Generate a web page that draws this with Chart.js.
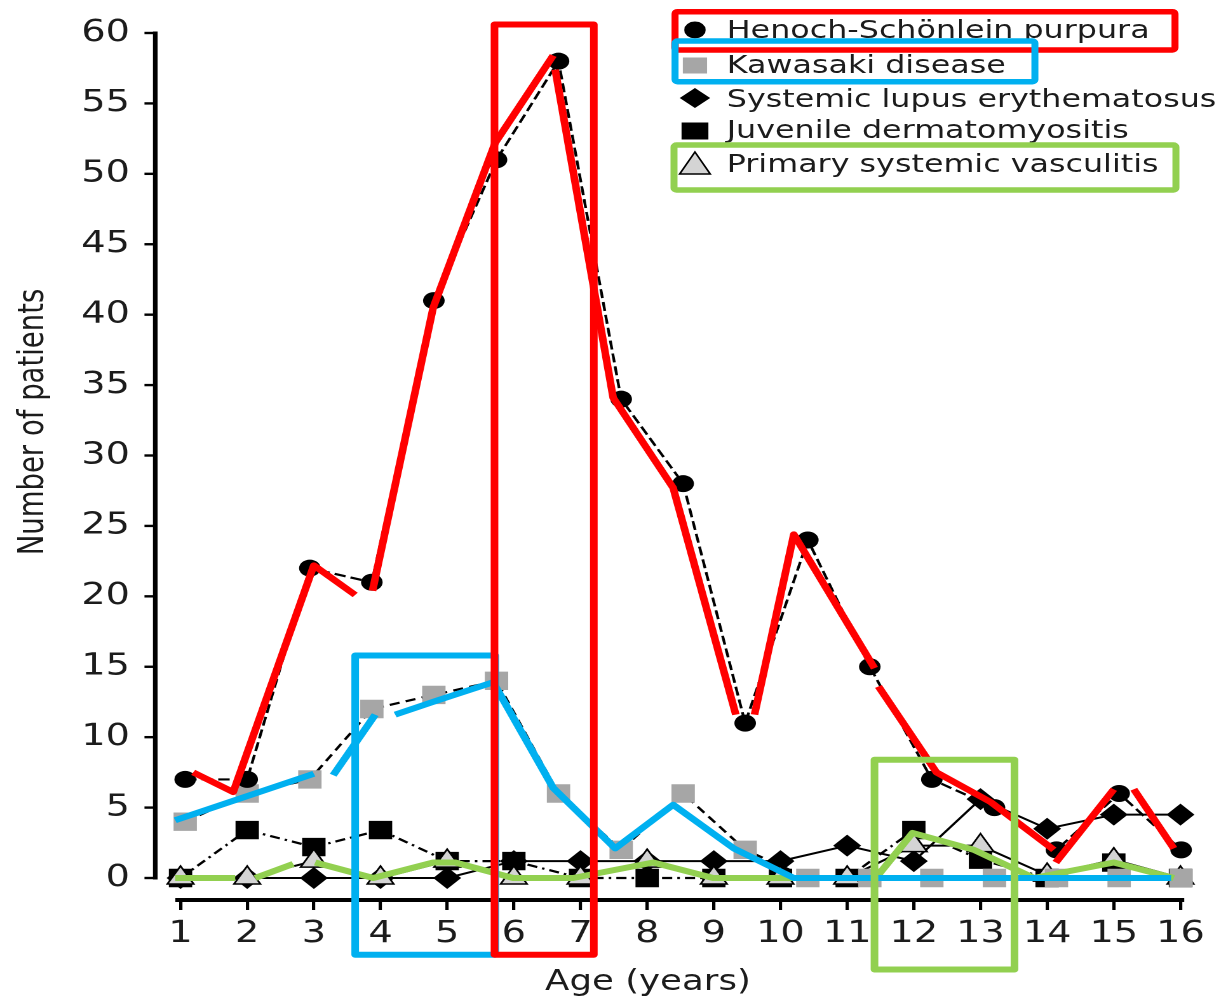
<!DOCTYPE html>
<html><head><meta charset="utf-8">
<script src="https://cdn.jsdelivr.net/npm/chart.js@4/dist/chart.umd.min.js"></script>
<style>
html,body{margin:0;padding:0;background:#fff;}
#wrap{position:relative;width:1221px;height:998px;overflow:hidden;background:#fff;}
#stretch{position:absolute;left:0;top:0;width:961px;height:998px;transform:scaleX(1.2705);transform-origin:0 0;}
#stretch canvas{position:absolute;left:0;top:0;}
#overlay{position:absolute;left:0;top:0;font-family:'DejaVu Sans';}
</style></head><body>
<div id="wrap"><div id="stretch">
<canvas id="c" width="961" height="998"></canvas>
<svg id="overlay" width="961" height="998" xmlns="http://www.w3.org/2000/svg">
  <text x="510" y="990" font-size="28" fill="#1c1c1c" text-anchor="middle">Age (years)</text>
  <text transform="translate(34,422) rotate(-90)" font-size="27.5" fill="#1c1c1c" text-anchor="middle">Number of patients</text>
  <g id="legend"></g>
</svg>
</div></div>
<script>
// ---------- data ----------
const ageTicks = [1,2,3,4,5,6,7,8,9,10,11,12,13,14,15,16];
const yTicks = [0,5,10,15,20,25,30,35,40,45,50,55,60];
const seriesNames = ['Henoch-Schönlein purpura','Kawasaki disease','Systemic lupus erythematosus','Juvenile dermatomyositis','Primary systemic vasculitis'];

// HSP and Kawasaki are plotted at 17 evenly spread positions in the source figure
const shiftedAges = [1.07, 2.0, 2.94, 3.87, 4.8, 5.74, 6.67, 7.61, 8.54, 9.47, 10.41, 11.34, 12.27, 13.21, 14.14, 15.08, 16.01];
const hsp      = [7, 7, 22, 21, 41, 51, 58, 34, 28, 11, 24, 15, 7, 5, 2, 6, 2];
const kawasaki = [4, 6, 7, 12, 13, 14, 6, 2, 6, 2, 0, 0, 0, 0, 0, 0, 0];

const ages = [1,2,3,4,5,6,7,8,9,10,11,12,13,14,15,16];
const sle = [0, 0, 0, 0, 0, 1.2, 1.2, 1.2, 1.2, 1.2, 2.3, 1.2, 5.6, 3.5, 4.5, 4.5];
const jdm = [0, 3.4, 2.2, 3.4, 1.2, 1.2, 0, 0, 0, 0, 0, 3.4, 1.3, 0, 1.1, 0];
const psv = [0, 0, 1.2, 0, 1.2, 0, 0, 1.2, 0, 0, 0, 2.3, 2.3, 0.2, 1.3, 0];

// hand-drawn highlight lines (null = gap)
const redAges   = [1.19, 1.79, 3.00, 3.62, 3.75, 3.88, 4.79, 5.72, 6.59, 6.60, 6.62, 7.49, 8.39, 9.33, 9.47, 9.61, 10.20, 11.41, 11.44, 11.47, 12.34, 13.15, 14.10, 14.12, 14.13, 15.00, 15.15, 15.30, 15.90];
const redValues = [7.5, 6.1, 22.2, 20.1, null, 20.4, 40.5, 52.2, 58.4, null, 57.4, 34.1, 27.7, 11.6, null, 11.6, 24.4, 14.9, null, 13.6, 7.5, 5.4, 2.0, null, 1.1, 6.3, null, 6.3, 2.1];
const blueAges   = [0.92, 3.00, 3.15, 3.29, 3.92, 4.07, 4.22, 4.85, 5.69, 6.59, 7.52, 8.39, 9.30, 10.20, 15.86];
const blueValues = [4.1, 7.4, null, 7.3, 11.6, null, 11.6, 12.6, 13.9, 6.4, 2.1, 5.2, 2.1, 0, 0];
const greenAges   = [0.92, 1.82, 1.97, 2.12, 2.69, 2.85, 3.02, 3.89, 4.79, 5.12, 5.99, 6.89, 8.09, 8.99, 11.13, 11.28, 11.43, 11.98, 12.9, 13.8, 15.0, 15.9];
const greenValues = [0, 0, null, 0, 1.0, null, 1.1, 0, 1.1, 1.1, 0, 0, 1.1, 0, 0, null, 0, 3.2, 2.0, 0, 1.1, 0];

// highlight boxes (age / value corners)
const redBoxAges = [5.71, 7.20, 7.20, 5.71, 5.71];
const redBoxValues = [60.6, 60.6, -5.45, -5.45, 60.6];
const blueBoxAges = [3.62, 5.72, 5.72, 3.62, 3.62];
const blueBoxValues = [15.8, 15.8, -5.45, -5.45, 15.8];
const greenBoxAges = [11.41, 13.51, 13.51, 11.41, 11.41];
const greenBoxValues = [8.4, 8.4, -6.5, -6.5, 8.4];

// ---------- helpers ----------
const pts = (xs, ys) => xs.map((x, i) => ({x: x, y: ys[i]}));
const RED = '#ff0000', BLUE = '#00b0f0', GREEN = '#92d050';

function highlight(xs, ys, color) {
  return {data: pts(xs, ys), borderColor: color, borderWidth: 6, pointRadius: 0,
    borderCapStyle: 'butt', borderJoinStyle: 'round', tension: 0, clip: false, spanGaps: false};
}
function box(xs, ys, color) {
  return {data: pts(xs, ys), borderColor: color, borderWidth: 6, pointRadius: 0,
    borderCapStyle: 'round', borderJoinStyle: 'round', tension: 0, clip: false};
}

Chart.defaults.font.family = "'DejaVu Sans'";

const yAxisLine = {
  id: 'yAxisLine',
  beforeDatasetsDraw(chart) {
    const ys = chart.scales.y, ctx = chart.ctx;
    const x = chart.chartArea.left - 18;
    ctx.save();
    ctx.strokeStyle = '#000';
    ctx.lineWidth = 3.6;
    ctx.beginPath();
    ctx.moveTo(x, ys.getPixelForValue(yTicks[yTicks.length - 1]) - 1.5);
    ctx.lineTo(x, ys.getPixelForValue(yTicks[0]) + 1.5);
    ctx.stroke();
    ctx.lineWidth = 2.4;
    yTicks.forEach(v => {
      const p = ys.getPixelForValue(v);
      ctx.beginPath();
      ctx.moveTo(x - 8.5, p);
      ctx.lineTo(x, p);
      ctx.stroke();
    });
    ctx.restore();
  }
};

new Chart(document.getElementById('c'), {
  type: 'line',
  data: {
    datasets: [
      box(redBoxAges, redBoxValues, RED),
      box(blueBoxAges, blueBoxValues, BLUE),
      box(greenBoxAges, greenBoxValues, GREEN),
      highlight(blueAges, blueValues, BLUE),
      highlight(redAges, redValues, RED),
      highlight(greenAges, greenValues, GREEN),
      {label: seriesNames[0], data: pts(shiftedAges, hsp), borderColor: '#000', borderWidth: 2.2, borderDash: [9, 4],
        pointStyle: 'circle', pointRadius: 8.5, pointBackgroundColor: '#000', pointBorderWidth: 0, tension: 0, clip: false},
      {label: seriesNames[1], data: pts(shiftedAges, kawasaki), borderColor: '#000', borderWidth: 2.2, borderDash: [8, 5],
        pointStyle: 'rect', pointRadius: 13, pointBackgroundColor: '#a6a6a6', pointBorderWidth: 0, tension: 0, clip: false},
      {label: seriesNames[4], data: pts(ages, psv), borderColor: '#000', borderWidth: 2,
        pointStyle: 'triangle', pointRadius: 12, pointBackgroundColor: '#d4d4d4', pointBorderColor: '#000', pointBorderWidth: 1.5, tension: 0, clip: false},
      {label: seriesNames[3], data: pts(ages, jdm), borderColor: '#000', borderWidth: 2.2, borderDash: [8, 4, 2, 4],
        pointStyle: 'rect', pointRadius: 13, pointBackgroundColor: '#000', pointBorderWidth: 0, tension: 0, clip: false},
      {label: seriesNames[2], data: pts(ages, sle), borderColor: '#000', borderWidth: 2,
        pointStyle: 'rectRot', pointRadius: 11, pointBackgroundColor: '#000', pointBorderWidth: 0, tension: 0, clip: false}
    ]
  },
  options: {
    responsive: false,
    animation: false,
    devicePixelRatio: 2,
    events: [],
    layout: {padding: {top: 33, right: 30.3, left: 0, bottom: 0}},
    plugins: {legend: {display: false}, tooltip: {enabled: false}},
    scales: {
      x: {
        type: 'linear', min: 0.964, max: 16.03,
        afterBuildTicks: s => { s.ticks = ageTicks.map(v => ({value: v})); },
        afterFit: s => { s.height = 98; },
        grid: {display: true, drawOnChartArea: false, drawTicks: true, tickLength: 10, color: '#000', lineWidth: 2.6},
        border: {display: true, color: '#000', width: 4},
        ticks: {font: {size: 30}, color: '#1c1c1c', padding: 6, maxRotation: 0, autoSkip: false}
      },
      y: {
        type: 'linear', min: -1.562, max: 60,
        afterBuildTicks: s => { s.ticks = yTicks.map(v => ({value: v})); },
        afterFit: s => { s.width = 140.2; s.paddingTop = 0; s.paddingBottom = 0; },
        grid: {display: false, drawTicks: false},
        border: {display: false},
        ticks: {font: {size: 30}, color: '#1c1c1c', padding: 38}
      }
    }
  },
  plugins: [yAxisLine]
});

// ---------- legend (SVG overlay) ----------
(function () {
  const NS = 'http://www.w3.org/2000/svg';
  const g = document.getElementById('legend');
  const mk = (tag, attrs) => { const e = document.createElementNS(NS, tag); for (const k in attrs) e.setAttribute(k, attrs[k]); g.appendChild(e); return e; };
  const cx = 547, tx = 572;
  const rows = [30, 65.5, 98, 131, 163];
  const baselines = [38, 73, 107, 138, 172];
  mk('circle', {cx: cx, cy: rows[0], r: 8.5, fill: '#000'});
  mk('rect', {x: cx - 9.5, y: rows[1] - 8, width: 19, height: 16, fill: '#a6a6a6'});
  mk('polygon', {points: `${cx},${rows[2]-10} ${cx+12},${rows[2]} ${cx},${rows[2]+10} ${cx-12},${rows[2]}`, fill: '#000'});
  mk('rect', {x: cx - 10.5, y: rows[3] - 8.5, width: 21, height: 17, fill: '#000'});
  mk('polygon', {points: `${cx},${rows[4]-11} ${cx+12},${rows[4]+11} ${cx-12},${rows[4]+11}`, fill: '#d4d4d4', stroke: '#000', 'stroke-width': 1.5});
  seriesNames.forEach((n, i) => {
    const t = mk('text', {x: tx, y: baselines[i], 'font-size': 25, fill: '#1c1c1c'});
    t.textContent = n;
  });
  mk('rect', {x: 531.3, y: 11.7, width: 393.5, height: 38.3, rx: 2, fill: 'none', stroke: RED, 'stroke-width': 5.5});
  mk('rect', {x: 531.3, y: 41, width: 283.3, height: 40.7, rx: 2, fill: 'none', stroke: BLUE, 'stroke-width': 5.5});
  mk('rect', {x: 530.5, y: 145, width: 395.1, height: 45, rx: 2, fill: 'none', stroke: GREEN, 'stroke-width': 5.5});
})();
</script>
</body></html>
